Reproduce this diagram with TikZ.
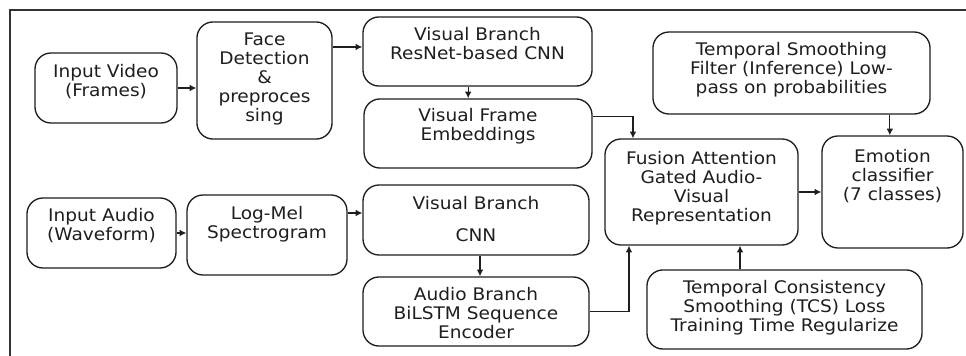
\documentclass[tikz,border=0pt]{standalone}
\usepackage{fontspec}
\setmainfont[FakeStretch=1.07]{DejaVu Sans}
\usetikzlibrary{arrows.meta,calc}
\definecolor{ink}{HTML}{1E1E1E}
\tikzset{
  box/.style={draw=ink, line width=1pt, rounded corners=12pt, inner sep=0pt, fill=white},
  txt/.style={align=center, inner sep=0pt, text=ink, font=\fontsize{13}{14.25}\selectfont},
  arr/.style={draw=ink, line width=0.9pt, -{Latex[length=5pt,width=5pt]}},
  frame/.style={draw=black!80, line width=1.6pt}
}
\begin{document}
\begin{tikzpicture}[x=0.75pt, y=-0.75pt]
\useasboundingbox (0,0) rectangle (966,356);
\fill[white] (0,0) rectangle (966,356);
\draw[frame] (970,10) -- (10,10) -- (10,360);

% boxes (px: centre, width, height)
\node[box, minimum width=106.5pt, minimum height=52.5pt] (vid) at (106,88) {};
\node[txt] (vidT) at (106,82) {Input Video\\(Frames)};

\node[box, minimum width=101.3pt, minimum height=87.8pt] (face) at (264.5,80.5) {};
\node[txt] (faceT) at (264.5,79) {Face\\Detection\\\&\\preproces\\sing};

\node[box, minimum width=171.8pt, minimum height=51.8pt] (vbr) at (477.5,51.5) {};
\node[txt] (vbrT) at (477.5,43.5) {Visual Branch\\ResNet-based CNN};

\node[box, minimum width=171pt, minimum height=51.8pt] (vfe) at (478,133.5) {};
\node[txt] (vfeT) at (478,126.5) {Visual Frame\\Embeddings};

\node[box, minimum width=144.8pt, minimum height=79.5pt] (fus) at (701.5,192) {};
\node[txt] (fusT) at (701.5,188) {Fusion Attention\\Gated Audio-\\Visual\\Representation};

\node[box, minimum width=207.8pt, minimum height=61.5pt] (tsf) at (791.5,73) {};
\node[txt] (tsfT) at (791.5,69.5) {Temporal Smoothing\\Filter (Inference) Low-\\pass on probabilities};

\node[box, minimum width=105.8pt, minimum height=84pt] (emo) at (892.5,192) {};
\node[txt] (emoT) at (892.5,176) {Emotion\\classifier\\(7 classes)};

\node[box, minimum width=206.3pt, minimum height=59.3pt] (tcs) at (784.5,309.5) {};
\node[txt] (tcsT) at (784.5,307.5) {Temporal Consistency\\Smoothing (TCS) Loss\\Training Time Regularize};

\node[box, minimum width=111.8pt, minimum height=52.5pt] (aud) at (101.5,233) {};
\node[txt] (audT) at (101.5,225.5) {Input Audio\\(Waveform)};

\node[box, minimum width=120pt, minimum height=60pt] (mel) at (267,235) {};
\node[txt] (melT) at (267,224) {Log-Mel\\Spectrogram};

\node[box, minimum width=169.5pt, minimum height=52.5pt] (vcnn) at (476,220) {};
\node[txt] (vcnnT) at (476,219) {Visual Branch\\[9.75pt]CNN};

\node[box, minimum width=169.5pt, minimum height=51.8pt] (bil) at (476,311.5) {};
\node[txt] (bilT) at (476,313) {Audio Branch\\BiLSTM Sequence\\Encoder};

% helper coordinates
\coordinate (c1) at ([yshift=3.4pt]vbr.west);
\coordinate (c2) at ([xshift=-7pt]vbr.south);
\coordinate (c3) at ([yshift=13pt]vfe.east);
\coordinate (c4) at ([xshift=-51.4pt]fus.north);
\coordinate (c5) at ([xshift=28.9pt]fus.south);
\coordinate (c6) at ([yshift=16.5pt]mel.east);
\coordinate (c7) at ([xshift=3pt]vcnn.south);
\coordinate (c8) at ([xshift=-54.4pt]fus.south);
\coordinate (c9) at ([xshift=-2pt]emo.north);

% connectors
\draw[arr] (vid.east) -- (vid.east -| face.west);
\draw[arr] (c1 -| face.east) -- (c1);
\draw[arr] (c2) -- (c2 |- vfe.north);
\draw[arr] (c3) -| (c4);
\draw[arr] (fus.east) -- (fus.east -| emo.west);
\draw[arr] (c9 |- tsf.south) -- (c9);
\draw[arr] (c5 |- tcs.north) -- (c5);
\draw[arr] (aud.east) -- (aud.east -| mel.west);
\draw[arr] (c6) -- (c6 -| vcnn.west);
\draw[arr] (c7) -- (c7 |- bil.north);
\draw[arr] (bil.east) -| (c8);
\end{tikzpicture}
\end{document}
